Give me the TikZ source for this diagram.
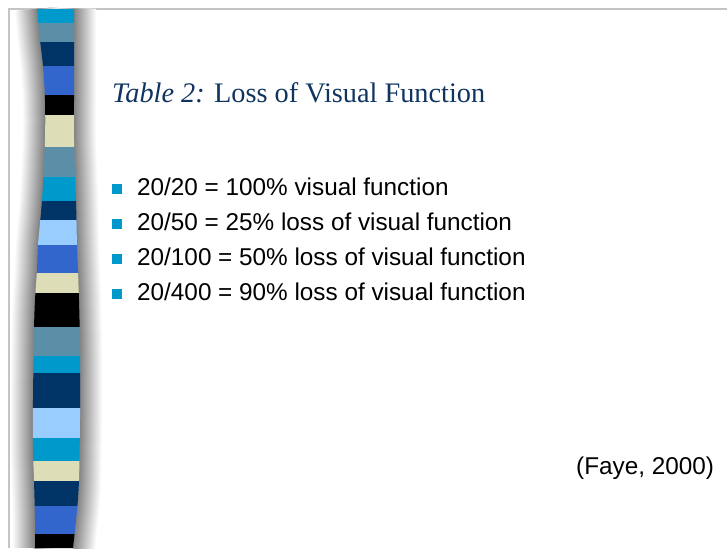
\documentclass[tikz,border=0pt]{standalone}
\usepackage{fontspec}
\setmainfont{Liberation Serif}
\newfontfamily\arialfont{Liberation Sans}
\usetikzlibrary{positioning}

\definecolor{cyanS}{HTML}{0099CC}
\definecolor{steelS}{HTML}{5B8FA8}
\definecolor{navyS}{HTML}{003366}
\definecolor{royalS}{HTML}{3366CC}
\definecolor{beigeS}{HTML}{DDDDB8}
\definecolor{skyS}{HTML}{99CCFF}
\definecolor{titleS}{HTML}{0F3460}
\definecolor{frameS}{HTML}{C4C4C4}

\tikzset{
  titletext/.style={anchor=base west, inner sep=0pt, font=\fontsize{28.3}{32}\selectfont, text=titleS},
  itemtext/.style={anchor=base west, inner sep=0pt, font=\arialfont\fontsize{24.3}{28}\selectfont},
  sqbullet/.style={fill=cyanS, minimum size=9.5pt, inner sep=0pt},
}

\def\leftedge{(37,9) (40,40) (43,66) (45,100) (45,140) (42,200) (38,245) (37,270) (35,300) (34,330) (33,400) (33,450) (34,480) (35,520) (35,548)}
\def\rightedge{(73,548) (77,510) (79,480) (80,420) (80,350) (79,300) (77,245) (76,200) (74,140) (74,100) (74,9)}

\begin{document}
\begin{tikzpicture}[x=1pt, y=-1pt]
				\useasboundingbox (0,0) rectangle (727,548);
				% frame
				\draw[frameS, line width=2pt] (727,9) -- (9,9) -- (9,548);
				% shadow round the bar
				\foreach \d [evaluate=\d as \p using {50*(1-\d/23)}] in {22,21,...,1} {
					\draw[black!\p, line width=2*\d pt] plot[smooth] coordinates {\leftedge};
					\draw[black!\p, line width=2*\d pt] plot[smooth] coordinates {\rightedge};
				}
				% striped bar
				\begin{scope}
					\clip plot[smooth] coordinates {\leftedge} -- plot[smooth] coordinates {\rightedge} -- cycle;
					\foreach \ya/\yb/\col in {9/23/cyanS, 23/42/steelS, 42/66/navyS, 66/95/royalS, 95/115/black, 115/147/beigeS,
						147/177/steelS, 177/201/cyanS, 201/220/navyS, 220/245/skyS, 245/273/royalS, 273/293/beigeS,
						293/327/black, 327/356/steelS, 356/373/cyanS, 373/408/navyS, 408/438/skyS, 438/461/cyanS,
						461/481/beigeS, 481/506/navyS, 506/534/royalS, 534/549/black}
						\fill[\col] (20,\ya) rectangle (100,\yb);
				\end{scope}
				% title
				\node[titletext] (title) at (112,103) {\textit{Table 2:} Loss of Visual Function};
				% items
				\foreach \txt [count=\i] in {{20/20 = 100\% visual function}, {20/50 = 25\% loss of visual function},
					{20/100 = 50\% loss of visual function}, {20/400 = 90\% loss of visual function}} {
					\node[itemtext] (item\i) at (137,{195+35*(\i-1)}) {\txt};
					\node[sqbullet] (dot\i) at (117,{189+35*(\i-1)}) {};
				}
				% source
				\node[itemtext] (source) at (576,474) {(Faye, 2000)};
			\end{tikzpicture}
\end{document}
